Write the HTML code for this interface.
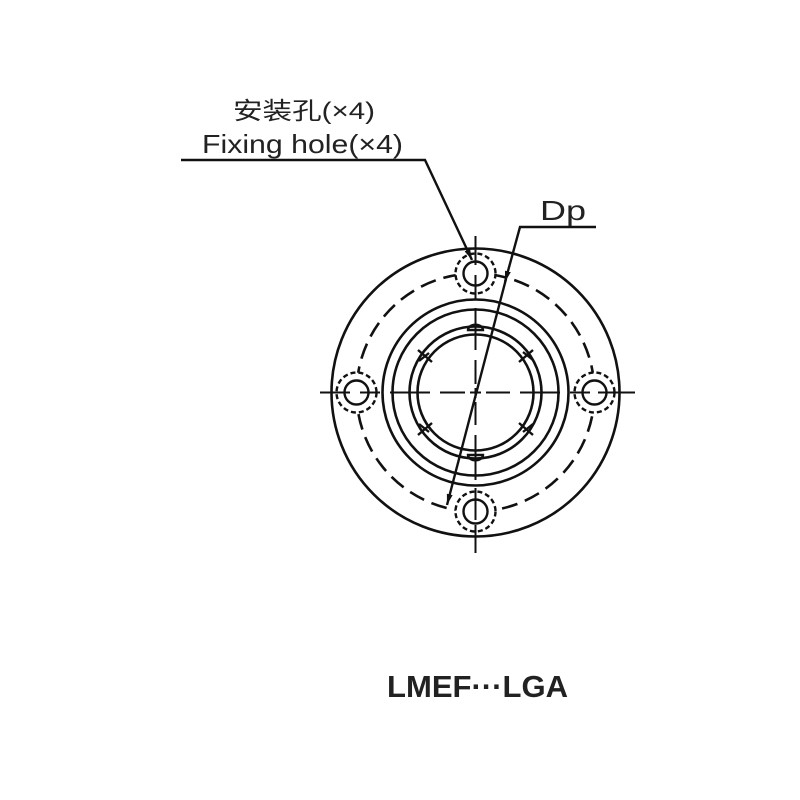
<!DOCTYPE html>
<html><head><meta charset="utf-8"><style>html,body{margin:0;padding:0;background:#fff}svg{display:block}</style></head>
<body>
<svg width="800" height="800" viewBox="0 0 800 800" xmlns="http://www.w3.org/2000/svg">
<defs>
<marker id="ah" markerWidth="11" markerHeight="6" refX="11" refY="3" orient="auto" markerUnits="userSpaceOnUse">
<path d="M0,0 L11,3 L0,6 z" fill="#111"/></marker>
</defs>
<g fill="none" stroke="#111" stroke-width="2.6">
<circle cx="475.5" cy="392.5" r="144"/>
<circle cx="475.5" cy="392.5" r="119" stroke-dasharray="16,8"/>
<circle cx="475.5" cy="392.5" r="93"/>
<circle cx="475.5" cy="392.5" r="83"/>
<circle cx="475.5" cy="392.5" r="66"/>
<circle cx="475.5" cy="392.5" r="58"/>
</g>
<g fill="#fff" stroke="#111" stroke-width="2.4">
<circle cx="475.5" cy="273.5" r="20" stroke-dasharray="5,3"/>
<circle cx="475.5" cy="511.5" r="20" stroke-dasharray="5,3"/>
<circle cx="356.5" cy="392.5" r="20" stroke-dasharray="5,3"/>
<circle cx="594.5" cy="392.5" r="20" stroke-dasharray="5,3"/>
<circle cx="475.5" cy="273.5" r="12"/>
<circle cx="475.5" cy="511.5" r="12"/>
<circle cx="356.5" cy="392.5" r="12"/>
<circle cx="594.5" cy="392.5" r="12"/>
</g>
<g fill="none" stroke="#111" stroke-width="2.4">
<path d="M468,330 a7,5 0 0 1 15,0 z"/>
<path d="M468,455 a7,5 0 0 0 15,0 z"/>
<path d="M419,361 l10,-8 M418,350 l14,12"/>
<path d="M523,352 l10,8 M519,362 l14,-12"/>
<path d="M419,424 l10,8 M418,435 l14,-12"/>
<path d="M523,432 l10,-8 M519,423 l14,12"/>
</g>
<g stroke="#111" stroke-width="2" fill="none">
<path d="M320,392.5 H350 M360,392.5 H380 M390,392.5 H430 M440,392.5 H465 M470,392.5 H481 M486,392.5 H510 M520,392.5 H560 M570,392.5 H590 M598,392.5 H635"/>
<path d="M475.5,236 V265 M475.5,275 V300 M475.5,308 V350 M475.5,360 V384 M475.5,388 V398 M475.5,402 V425 M475.5,435 V480 M475.5,488 V520 M475.5,525 V553"/>
</g>
<g stroke="#111" stroke-width="2.4" fill="none">
<path d="M181,160 H425 L472,260" marker-end="url(#ah)"/>
<path d="M596,227 H520 L505,282" marker-end="url(#ah)"/>
<path d="M506,279 L447,505" marker-end="url(#ah)"/>
</g>
<g font-family="'Liberation Sans','Noto Sans CJK SC',sans-serif" fill="#222">
<text x="233" y="119" font-size="24" textLength="142" lengthAdjust="spacingAndGlyphs">安装孔(×4)</text>
<text x="202" y="153" font-size="26" textLength="201" lengthAdjust="spacingAndGlyphs">Fixing hole(×4)</text>
<text x="540" y="220" font-size="28" textLength="46" lengthAdjust="spacingAndGlyphs">Dp</text>
<text x="387" y="697" font-size="31" font-weight="bold" textLength="181" lengthAdjust="spacingAndGlyphs">LMEF···LGA</text>
</g>
</svg>
</body></html>
